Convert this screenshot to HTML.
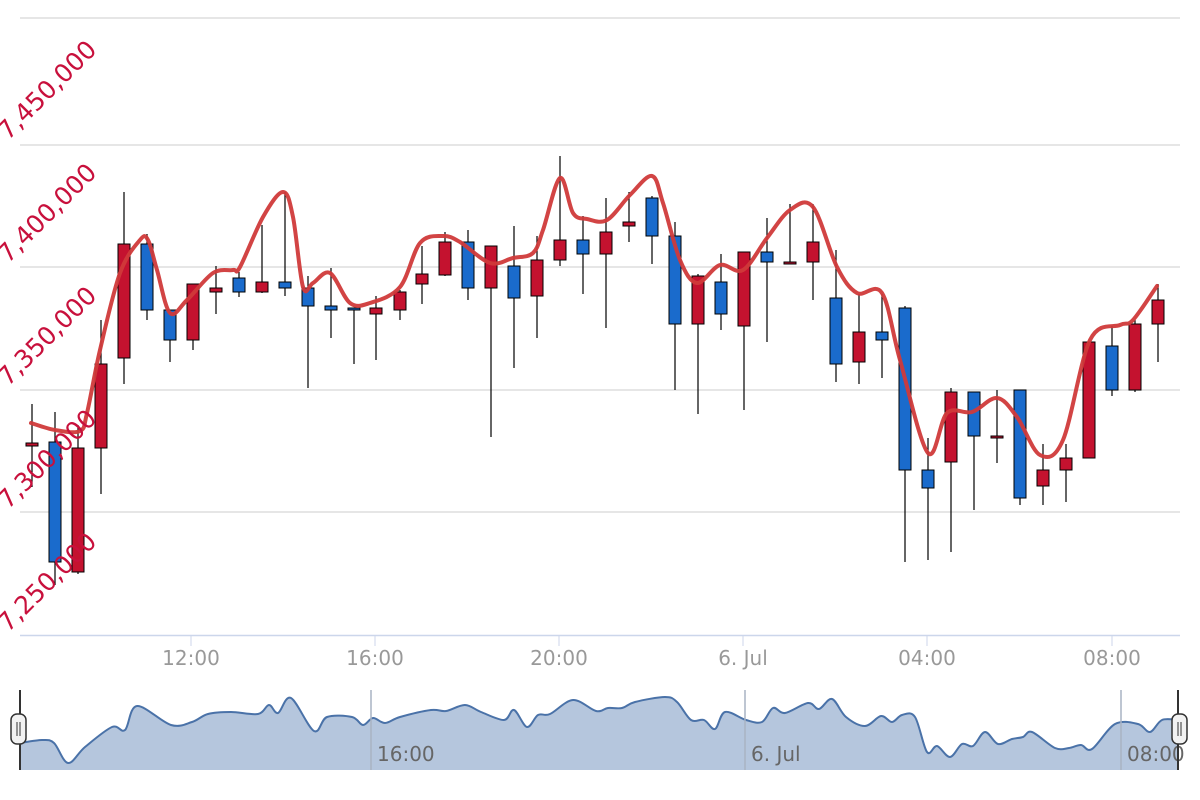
<!DOCTYPE html>
<html><head><meta charset="utf-8"><style>
html,body{margin:0;padding:0;background:#fff;}
svg{display:block;font-family:"DejaVu Sans","Liberation Sans",sans-serif;}
</style></head><body>
<svg id="s" width="1200" height="800" viewBox="0 0 1200 800" xmlns="http://www.w3.org/2000/svg">
<g stroke="#e6e6e6" stroke-width="2">
<line x1="20" y1="18" x2="1180" y2="18"/>
<line x1="20" y1="145" x2="1180" y2="145"/>
<line x1="20" y1="267" x2="1180" y2="267"/>
<line x1="20" y1="390" x2="1180" y2="390"/>
<line x1="20" y1="512" x2="1180" y2="512"/>
</g>
<line x1="20" y1="635.5" x2="1180" y2="635.5" stroke="#ccd6eb" stroke-width="1.5"/>
<g stroke="#ccd6eb" stroke-width="1">
<line x1="191" y1="636" x2="191" y2="646"/><line x1="375" y1="636" x2="375" y2="646"/>
<line x1="559" y1="636" x2="559" y2="646"/><line x1="743" y1="636" x2="743" y2="646"/>
<line x1="927" y1="636" x2="927" y2="646"/><line x1="1112" y1="636" x2="1112" y2="646"/>
</g>
<g fill="#999" font-size="20" text-anchor="middle">
<text x="191" y="665">12:00</text><text x="375" y="665">16:00</text><text x="559" y="665">20:00</text>
<text x="743" y="665">6. Jul</text><text x="927" y="665">04:00</text><text x="1112" y="665">08:00</text>
</g>
<g id="cand"></g>
<path id="line" fill="none" stroke="#d03a3a" stroke-width="4" stroke-linejoin="round" stroke-linecap="round" opacity="0.95"/>
<g fill="#c8103c" font-size="25" text-anchor="end">
<text transform="translate(98,51) rotate(-45)">7,450,000</text>
<text transform="translate(98,174) rotate(-45)">7,400,000</text>
<text transform="translate(98,297) rotate(-45)">7,350,000</text>
<text transform="translate(98,420) rotate(-45)">7,300,000</text>
<text transform="translate(98,543) rotate(-45)">7,250,000</text>
</g>
<!-- navigator -->
<path id="navf" fill="#b5c6dd" stroke="none"/>
<path id="nav" fill="none" stroke="#4a72a8" stroke-width="2"/>
<g stroke="#a8b3c2" stroke-width="1.5">
<line x1="371" y1="690" x2="371" y2="770"/><line x1="745" y1="690" x2="745" y2="770"/><line x1="1121" y1="690" x2="1121" y2="770"/>
</g>
<g fill="#666" font-size="20">
<text x="377" y="761">16:00</text><text x="751" y="761">6. Jul</text><text x="1127" y="761">08:00</text>
</g>
<g stroke="#333" stroke-width="2">
<line x1="20" y1="690" x2="20" y2="770"/><line x1="1178" y1="690" x2="1178" y2="770"/>
</g>
<g fill="#f2f2f2" stroke="#333" stroke-width="1.5">
<rect x="11" y="714" width="15" height="30" rx="6"/><rect x="1172" y="714" width="15" height="30" rx="6"/>
</g>
<g stroke="#333" stroke-width="1">
<line x1="17" y1="722" x2="17" y2="736"/><line x1="20" y1="722" x2="20" y2="736"/>
<line x1="1178" y1="722" x2="1178" y2="736"/><line x1="1181" y1="722" x2="1181" y2="736"/>
</g>
</svg>
<script>
var NS="http://www.w3.org/2000/svg";
var C=[[32,443,446,404,487,'r'],[55,442,562,412,585,'b'],[78,448,572,425,574,'r'],[101,364,448,320,494,'r'],[124,244,358,192,384,'r'],[147,244,310,234,320,'b'],[170,310,340,310,362,'b'],[193,284,340,284,350,'r'],[216,288,292,266,314,'r'],[239,278,292,272,297,'b'],[262,282,292,225,293,'r'],[285,282,288,192,296,'b'],[308,288,306,276,388,'b'],[331,306,310,268,338,'b'],[354,308,309,308,364,'b'],[376,308,314,296,360,'r'],[400,292,310,290,320,'r'],[422,274,284,246,304,'r'],[445,242,275,232,276,'r'],[468,242,288,230,300,'b'],[491,246,288,246,437,'r'],[514,266,298,226,368,'b'],[537,260,296,236,338,'r'],[560,240,260,156,266,'r'],[583,240,254,216,294,'b'],[606,232,254,198,328,'r'],[629,222,226,192,242,'r'],[652,198,236,196,264,'b'],[675,236,324,222,390,'b'],[698,276,324,274,414,'r'],[721,282,314,254,330,'b'],[744,252,326,252,410,'r'],[767,252,262,218,342,'b'],[790,262,263,204,262,'r'],[813,242,262,204,300,'r'],[836,298,364,250,382,'b'],[859,332,362,294,384,'r'],[882,332,340,294,378,'b'],[905,308,470,306,562,'b'],[928,470,488,438,560,'b'],[951,392,462,388,552,'r'],[974,392,436,392,510,'b'],[997,436,438,390,463,'r'],[1020,390,498,390,505,'b'],[1043,470,486,444,505,'r'],[1066,458,470,444,502,'r'],[1089,342,458,342,458,'r'],[1112,346,390,326,396,'b'],[1135,324,390,320,392,'r'],[1158,300,324,284,362,'r']];
var g=document.getElementById('cand');
C.forEach(function(c){
 var l=document.createElementNS(NS,'line');l.setAttribute('x1',c[0]);l.setAttribute('x2',c[0]);l.setAttribute('y1',c[3]);l.setAttribute('y2',c[4]);l.setAttribute('stroke','#000');l.setAttribute('stroke-width','1.2');g.appendChild(l);
 var r=document.createElementNS(NS,'rect');r.setAttribute('x',c[0]-6);r.setAttribute('y',c[1]);r.setAttribute('width',12);r.setAttribute('height',Math.max(2,c[2]-c[1]));r.setAttribute('fill',c[5]=='r'?'#c4122f':'#1a6bcc');r.setAttribute('stroke','#000');r.setAttribute('stroke-width','1');g.appendChild(r);
});
function cr(p){var d='M'+p[0][0]+','+p[0][1];for(var i=0;i<p.length-1;i++){var p0=p[i-1]||p[i],p1=p[i],p2=p[i+1],p3=p[i+2]||p2;
d+=' C'+(p1[0]+(p2[0]-p0[0])/6)+','+(p1[1]+(p2[1]-p0[1])/6)+' '+(p2[0]-(p3[0]-p1[0])/6)+','+(p2[1]-(p3[1]-p1[1])/6)+' '+p2[0]+','+p2[1];}return d;}
var L=[[31,423],[55,430],[80,431],[87,413],[100,350],[120,273],[140,240],[148,240],[157,270],[170,313],[187,300],[213,273],[233,270],[240,267],[263,217],[283,192],[293,217],[303,287],[313,283],[330,273],[350,303],[370,303],[400,287],[420,243],[443,236],[460,242],[490,263],[513,258],[533,253],[543,230],[560,178],[573,213],[587,219],[607,220],[630,195],[652,176],[663,203],[680,260],[697,283],[720,265],[743,270],[767,238],[790,210],[813,207],[837,267],[857,293],[882,293],[900,360],[928,453],[947,413],[972,412],[997,398],[1017,417],[1040,455],[1063,440],[1090,340],[1120,325],[1133,320],[1157,286]];
document.getElementById('line').setAttribute('d',cr(L));
var N=[[20,743],[42,740],[54,743],[68,763],[85,747],[112,727],[125,730],[137,706],[171,725],[192,722],[208,714],[231,712],[258,714],[269,705],[278,713],[291,698],[314,731],[327,717],[352,717],[363,725],[373,718],[385,723],[400,717],[431,710],[446,711],[465,705],[481,712],[504,720],[514,710],[527,727],[538,715],[550,714],[573,700],[596,711],[608,708],[622,708],[635,702],[665,697],[677,702],[691,720],[704,720],[715,729],[725,712],[746,720],[762,722],[773,708],[785,713],[808,703],[819,709],[832,699],[846,717],[865,726],[881,716],[892,722],[902,715],[915,717],[927,752],[937,746],[950,757],[962,744],[973,746],[985,732],[998,744],[1012,739],[1023,737],[1032,732],[1055,748],[1069,748],[1081,745],[1092,749],[1115,724],[1138,724],[1150,732],[1162,720],[1178,720]];
var nd=cr(N);
document.getElementById('nav').setAttribute('d',nd);
document.getElementById('navf').setAttribute('d',nd+' L1178,770 L20,770 Z');
</script>
</body></html>
